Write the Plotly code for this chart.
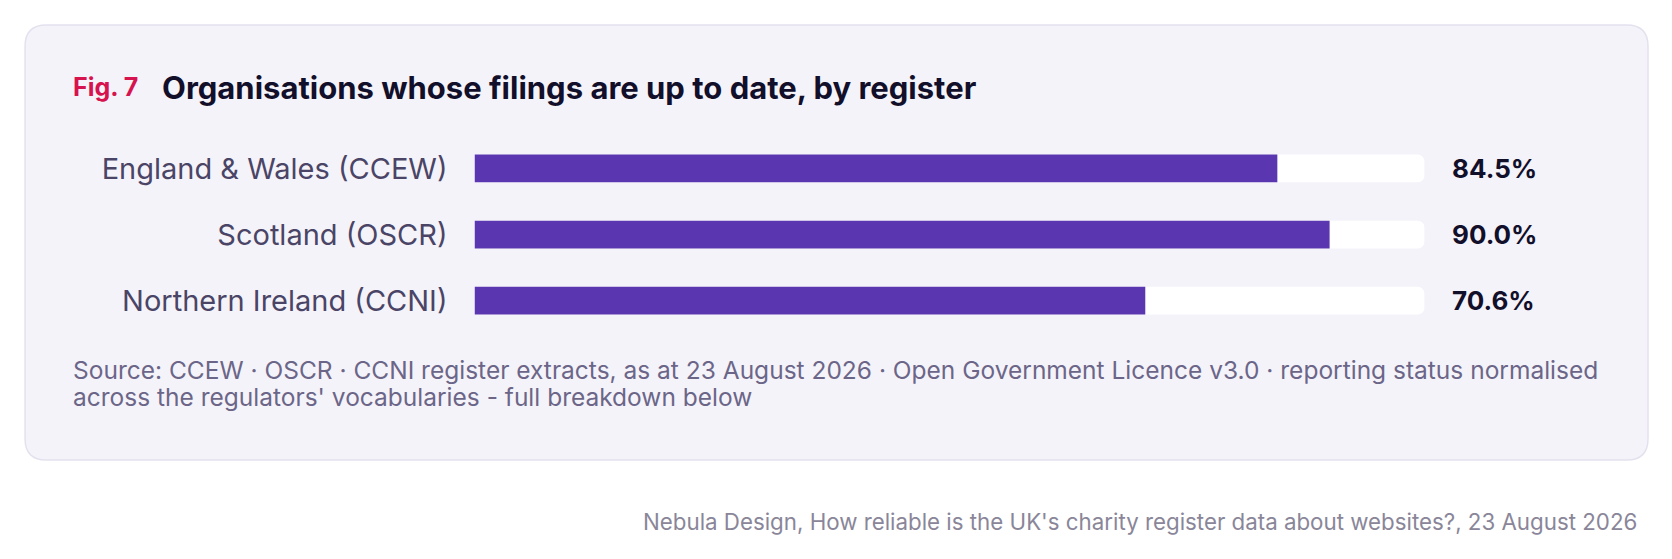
import plotly.graph_objects as go

categories = ["England & Wales (CCEW)", "Scotland (OSCR)", "Northern Ireland (CCNI)"]
values = [84.5, 90.0, 70.6]
value_labels = ["84.5%", "90.0%", "70.6%"]
track = [100, 100, 100]

W, H = 1656, 543
K = 1 / 0.9378   # reference-view to page pixels
M = 8            # page body margin
def ax(d): return d * K - M
def px(d): return ax(d) / W
def py(d): return 1 - ax(d) / H

FONT = "Inter, Lato, sans-serif"

bar_frac = 26 / 62

fig = go.Figure()
fig.add_trace(go.Bar(
    y=categories, x=track, orientation="h", width=bar_frac,
    marker=dict(color="#ffffff", cornerradius=7, line=dict(width=0)),
    hoverinfo="skip", showlegend=False))
fig.add_trace(go.Bar(
    y=categories, x=values, orientation="h", width=bar_frac,
    marker=dict(color="#5a37b0", cornerradius=7, line=dict(width=0)),
    showlegend=False))

for c, lab in zip(categories, value_labels):
    fig.add_annotation(x=100, y=c, xref="x", yref="y", text=lab, showarrow=False,
                       xanchor="left", yanchor="middle", xshift=24 * K,
                       font=dict(family=FONT, size=26, color="#120f2a", weight="bold"))

# card shape (rounded rectangle)
x0, x1, y0, y1, r = 23.5, 1545.5, 23.5, 431.5, 20
path = (f"M {px(x0+r)},{py(y0)} L {px(x1-r)},{py(y0)} Q {px(x1)},{py(y0)} {px(x1)},{py(y0+r)} "
        f"L {px(x1)},{py(y1-r)} Q {px(x1)},{py(y1)} {px(x1-r)},{py(y1)} "
        f"L {px(x0+r)},{py(y1)} Q {px(x0)},{py(y1)} {px(x0)},{py(y1-r)} "
        f"L {px(x0)},{py(y0+r)} Q {px(x0)},{py(y0)} {px(x0+r)},{py(y0)} Z")
fig.add_shape(type="path", path=path, xref="paper", yref="paper", layer="below",
              fillcolor="#f5f3fa", line=dict(color="#e4e1ee", width=1.5))

fig.add_annotation(x=px(67), y=py(82), xref="paper", yref="paper", text="Fig. 7",
                   showarrow=False, xanchor="left", yanchor="middle",
                   font=dict(family=FONT, size=25, color="#d6134f", weight="bold"))
fig.add_annotation(x=px(150), y=py(82), xref="paper", yref="paper",
                   text="Organisations whose filings are up to date, by register",
                   showarrow=False, xanchor="left", yanchor="middle",
                   font=dict(family=FONT, size=31, color="#120f2a", weight="bold"))
source_lines = [
    "Source: CCEW · OSCR · CCNI register extracts, as at 23 August 2026 · Open Government Licence v3.0 · reporting status normalised",
    "across the regulators' vocabularies - full breakdown below",
]
for i, line in enumerate(source_lines):
    fig.add_annotation(x=px(67), y=py(347 + 25 * i), xref="paper", yref="paper",
                       text=line, showarrow=False, xanchor="left", yanchor="middle",
                       font=dict(family=FONT, size=24.5, color="#6b6688"))
fig.add_annotation(x=px(1537), y=py(489), xref="paper", yref="paper",
                   text="Nebula Design, How reliable is the UK's charity register data about websites?, 23 August 2026",
                   showarrow=False, xanchor="right", yanchor="middle",
                   font=dict(family=FONT, size=22.3, color="#8a8699"))

fig.update_layout(
    width=W, height=H, margin=dict(l=0, r=0, t=0, b=0),
    paper_bgcolor="#ffffff", plot_bgcolor="rgba(0,0,0,0)",
    barmode="overlay", showlegend=False,
    xaxis=dict(domain=[px(445), px(1336)], range=[0, 100], visible=False, fixedrange=True),
    yaxis=dict(domain=[py(313), py(127)], autorange="reversed",
               showgrid=False, zeroline=False, showline=False, ticks="",
               ticklabelstandoff=26,
               tickfont=dict(family=FONT, size=29, color="#4a4566"), fixedrange=True),
)

fig.write_html("out.html")
